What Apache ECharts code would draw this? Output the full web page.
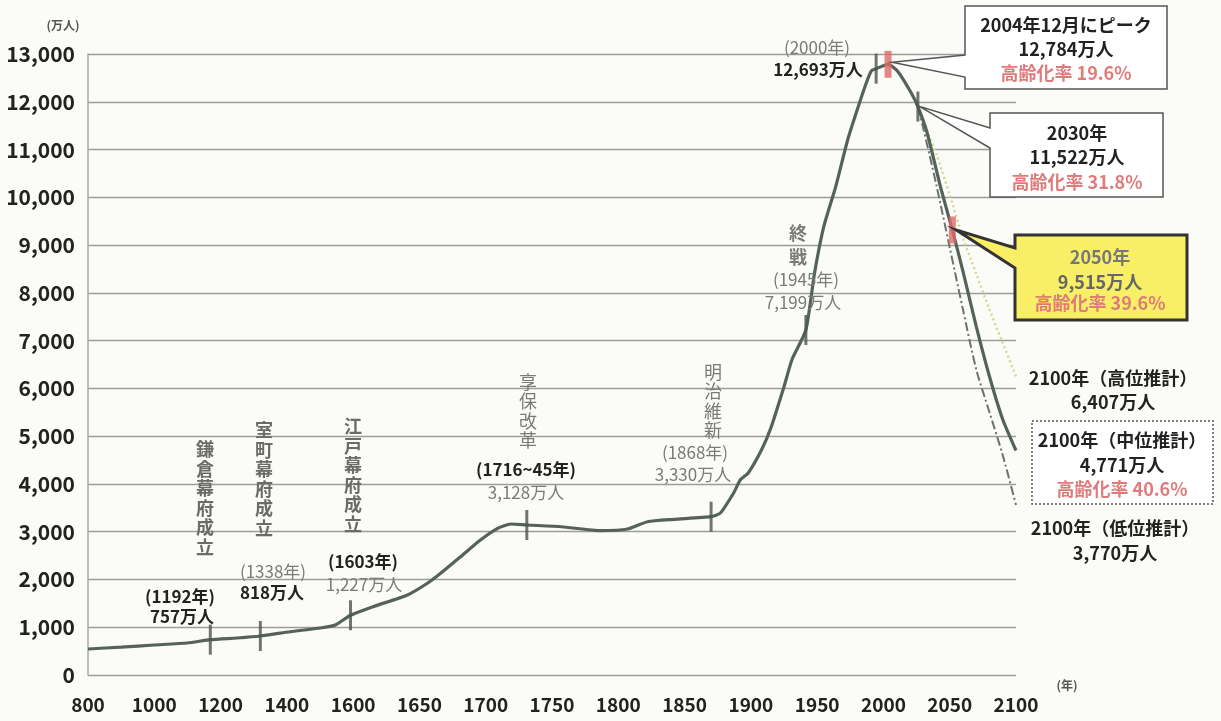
<!DOCTYPE html>
<html><head><meta charset="utf-8">
<script src="https://cdn.jsdelivr.net/npm/echarts@6/dist/echarts.min.js"></script>
<style>html,body{margin:0;padding:0;background:#fbfbf7}#c{width:1221px;height:721px}</style>
</head><body><div id="c"></div>
<script>
// x-axis tick labels (non-uniform year scale)
const xTickYears = [800,1000,1200,1400,1600,1650,1700,1750,1800,1850,1900,1950,2000,2050,2100];
const yTickMax = 13000;

// total population (万人), history + medium projection
const mainYears  = [800,900,1000,1100,1169,1250,1320,1410,1501,1546,1592,1615,1641,1656,1666,1681,1696,1709,1719,1731,1757,1787,1807,1822,1842,1870,1877,1887,1892,1898,1908,1915,1925,1931,1941.5,1948,1955,1964,1973,1981,1987,1991,1994.5,2003.5,2011,2021,2026,2033,2043,2052,2060,2070,2080,2090,2100];
const mainValues = [544,585,628,670,740,775,816,906,984,1047,1250,1430,1675,1920,2129,2476,2826,3071,3161,3140,3104,3021,3056,3209,3259,3314,3391,3810,4082,4229,4710,5164,6035,6600,7222,8409,9385,10222,11200,11897,12387,12650,12693,12784,12630,12183,11900,11346,10222,9316,8450,7300,6250,5350,4700];

// low projection (dash-dot)
const lowYears  = [2026,2030,2040,2050,2060,2070,2080,2090,2100];
const lowValues = [11900,11450,10250,8950,7650,6400,5500,4600,3560];

// high projection (dotted)
const highYears  = [2026,2035,2040,2050,2060,2070,2080,2090,2100];
const highValues = [11900,11250,10900,10050,9150,8400,7650,6950,6250];

// event tick marks on the curve
const tickYears  = [1169,1320,1592,1731,1870,1941.5,1994.5,2026];
const tickValues = [740,816,1250,3140,3314,7222,12693,11900];
const redTickYears  = [2003.5,2052];
const redTickValues = [12784,9316];

function yearToIdx(y){
  const t = xTickYears;
  for (let i=0;i<t.length-1;i++){
    if (y <= t[i+1]) return i + (y - t[i])/(t[i+1]-t[i]);
  }
  const n=t.length-1;
  return n + (y - t[n])/(t[n]-t[n-1]);
}
const pts = (ys, vs) => ys.map((y,i)=>[yearToIdx(y), vs[i]]);

const FONT = '"Noto Sans CJK JP","Noto Sans CJK SC",sans-serif';
const chart = echarts.init(document.getElementById('c'));

chart.setOption({
  backgroundColor:'#fbfbf7',
  animation:false,
  grid:{left:88, top:54, right:205, bottom:46, containLabel:false},
  xAxis:{type:'value', min:0, max:xTickYears.length-1, interval:1,
    axisLine:{show:false}, axisTick:{show:false}, splitLine:{show:false},
    axisLabel:{formatter:v=>String(xTickYears[v]), color:'#222', fontFamily:FONT, fontWeight:'bold', fontSize:19, margin:20}},
  yAxis:{type:'value', min:0, max:yTickMax, interval:1000,
    axisLine:{show:true, lineStyle:{color:'#aaa', width:1.5}}, axisTick:{show:false},
    splitLine:{lineStyle:{color:'#9c9c9c', width:1.3}},
    axisLabel:{formatter:v=>v.toLocaleString('en-US'), color:'#222', fontFamily:FONT, fontWeight:'bold', fontSize:21, margin:13}},
  series:[
    {type:'line', name:'main', data:pts(mainYears, mainValues), smooth:0.2, symbol:'none',
      lineStyle:{color:'#55625a', width:3.2}, z:3},
    {type:'line', name:'low', data:pts(lowYears, lowValues), smooth:0.3, symbol:'none',
      lineStyle:{color:'#6d716e', width:2, type:[9,3,2,3]}, z:2},
    {type:'line', name:'high', data:pts(highYears, highValues), smooth:0.3, symbol:'none',
      lineStyle:{color:'#d3d78e', width:2.4, type:[2,3]}, z:2},
    {type:'scatter', name:'ticks', data:pts(tickYears, tickValues), symbol:'rect', symbolSize:[3,30],
      itemStyle:{color:'#4c544e'}, z:5},
    {type:'scatter', name:'redticks', data:pts(redTickYears, redTickValues), symbol:'rect', symbolSize:[7,27],
      itemStyle:{color:'#e06a6a'}, z:6}
  ]
});

function T(x,y,text,o){
  o=o||{};
  return {type:'text', x:x, y:y, z:o.z||20, style:{text:text, fill:o.c||'#222', fontFamily:FONT,
    fontWeight:o.w||'bold', fontSize:o.s||17, lineHeight:o.lh, align:'center', verticalAlign:'middle'}};
}
const GRAY='#7a7a7a', RED='#e07b7b';
const vert = s => s.split('').join('\n');
const g = [];
// era vertical labels
g.push(T(205,498,vert('鎌倉幕府成立'),{c:'#6b6b6b',s:18,lh:19.5}));
g.push(T(264,479,vert('室町幕府成立'),{c:'#6b6b6b',s:18,lh:19.5}));
g.push(T(353,475,vert('江戸幕府成立'),{c:'#6b6b6b',s:18,lh:19.5}));
g.push(T(528,411,vert('享保改革'),{c:'#7a7a7a',s:18,lh:19.5,w:'normal'}));
g.push(T(713,401,vert('明治維新'),{c:'#7a7a7a',s:18,lh:19.5,w:'normal'}));
g.push(T(798,245,vert('終戦'),{c:'#7a7a7a',s:18,lh:24}));
// point labels
g.push(T(180,597,'(1192年)'));
g.push(T(182,617,'757万人'));
g.push(T(273,572,'(1338年)',{c:GRAY,w:'normal'}));
g.push(T(272,593,'818万人'));
g.push(T(363,562,'(1603年)'));
g.push(T(364,585,'1,227万人',{c:GRAY,w:'normal'}));
g.push(T(526,470,'(1716~45年)'));
g.push(T(526,493,'3,128万人',{c:GRAY,w:'normal'}));
g.push(T(695,453,'(1868年)',{c:GRAY,w:'normal'}));
g.push(T(693,475,'3,330万人',{c:GRAY,w:'normal'}));
g.push(T(806,280,'(1945年)',{c:GRAY,w:'normal'}));
g.push(T(803,303,'7,199万人',{c:GRAY,w:'normal'}));
g.push(T(817,48,'(2000年)',{c:GRAY,w:'normal'}));
g.push(T(818,70,'12,693万人'));
// units
g.push(T(63,25,'(万人)',{c:'#555',s:12}));
g.push(T(1067,685,'(年)',{c:'#555',s:12}));

function callout(x1,y1,x2,y2,wa,wb,tip,st){
  return {type:'polygon', z:15, shape:{points:[[x1,y1],[x2,y1],[x2,y2],[x1,y2],[x1,wb],tip,[x1,wa]]}, style:st};
}
const tip1 = chart.convertToPixel({seriesIndex:4},[yearToIdx(redTickYears[0]), redTickValues[0]]);
const tip2 = chart.convertToPixel({seriesIndex:3},[yearToIdx(tickYears[7]), tickValues[7]]);
const tip3 = chart.convertToPixel({seriesIndex:4},[yearToIdx(redTickYears[1]), redTickValues[1]]);
g.push(callout(965,6,1167,89,55,77,[tip1[0]+4,tip1[1]-2],{fill:'#fff',stroke:'#555',lineWidth:1.5}));
g.push(T(1066,25,'2004年12月にピーク',{s:18}));
g.push(T(1066,49,'12,784万人',{s:18}));
g.push(T(1066,73,'高齢化率 19.6%',{s:18,c:RED}));
g.push(callout(990,113,1163,197,128,148,[tip2[0]+2,tip2[1]],{fill:'#fff',stroke:'#555',lineWidth:1.5}));
g.push(T(1077,133,'2030年',{s:18}));
g.push(T(1077,157,'11,522万人',{s:18}));
g.push(T(1077,182,'高齢化率 31.8%',{s:18,c:RED}));
g.push(callout(1015,235,1187,320,248,268,[tip3[0]+4,tip3[1]],{fill:'#f8ef66',stroke:'#333',lineWidth:3}));
g.push(T(1100,257,'2050年',{s:18,c:'#777'}));
g.push(T(1100,282,'9,515万人',{s:18,c:'#666'}));
g.push(T(1100,303,'高齢化率 39.6%',{s:18,c:RED}));
g.push({type:'rect', z:15, shape:{x:1032,y:421,width:181,height:83}, style:{fill:'#fff',stroke:'#555',lineWidth:1.5,lineDash:[2,2]}});
g.push(T(1122,440,'2100年（中位推計）',{s:18}));
g.push(T(1122,465,'4,771万人',{s:18}));
g.push(T(1122,489,'高齢化率 40.6%',{s:18,c:RED}));
g.push(T(1113,378,'2100年（高位推計）',{s:18}));
g.push(T(1113,402,'6,407万人',{s:18}));
g.push(T(1115,528,'2100年（低位推計）',{s:18}));
g.push(T(1115,553,'3,770万人',{s:18}));

chart.setOption({graphic:g});
</script></body></html>
